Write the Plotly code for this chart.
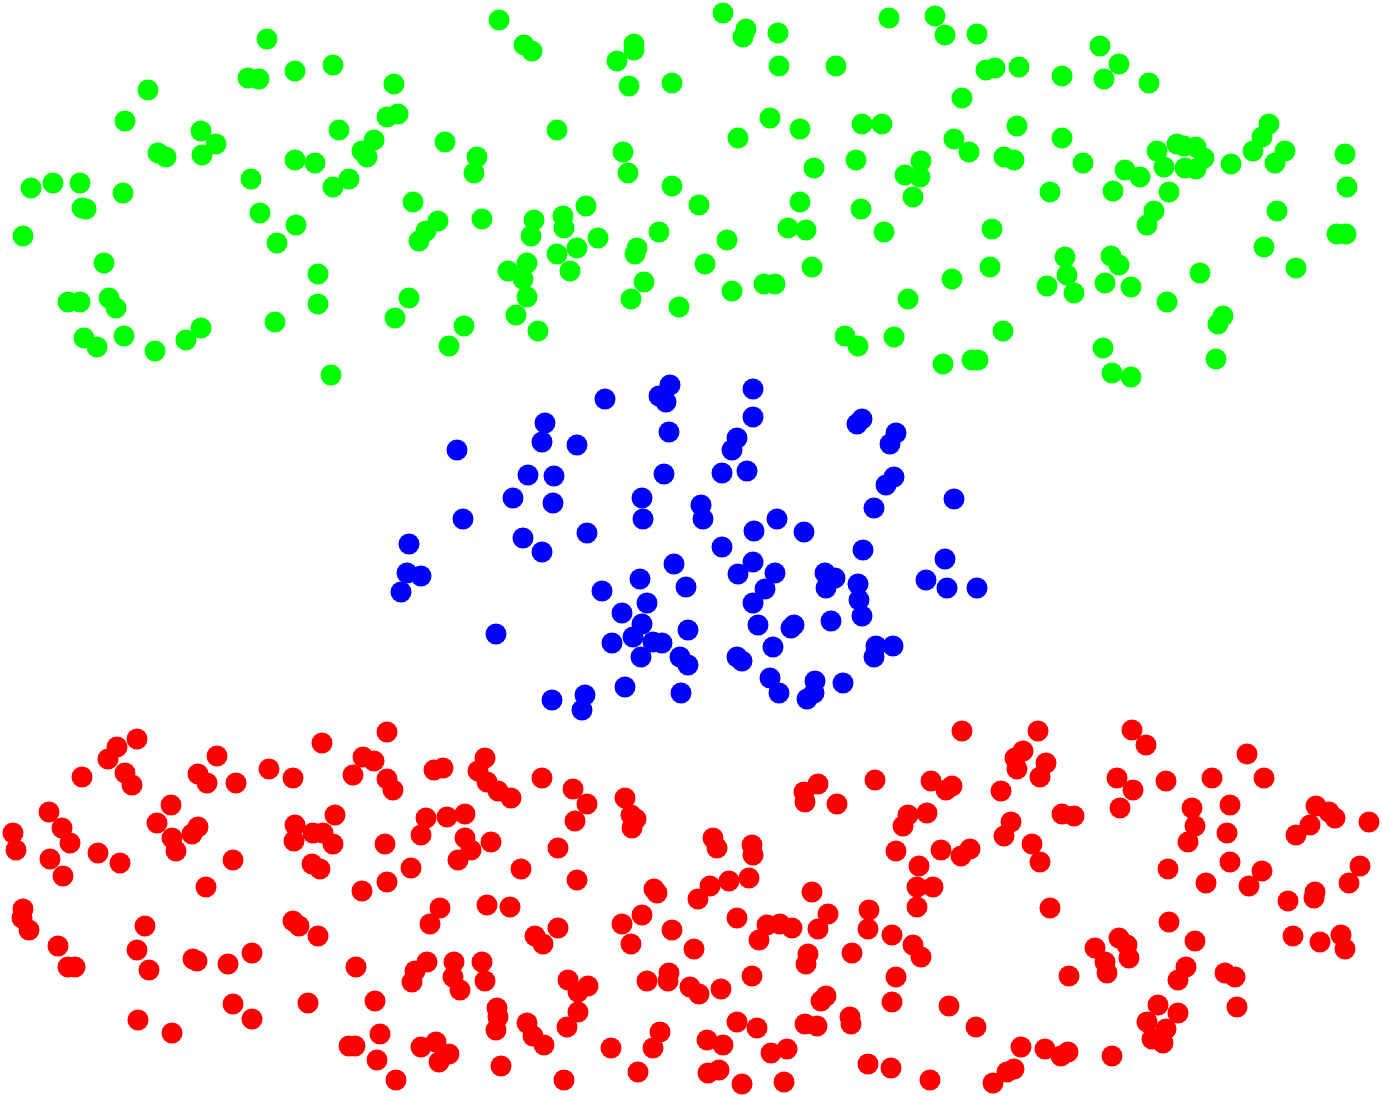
import plotly.graph_objects as go

# three clusters, point positions (pixel space)
green_x = [267, 248, 259, 295, 333, 394, 148, 125, 387, 398, 339, 201, 216, 202, 158, 166, 374, 362, 367, 445,
           295, 315, 251, 31, 53, 80, 82, 86, 123, 349, 333, 413, 260, 23, 296, 277, 438, 426, 419, 104,
           318, 318, 409, 395, 68, 80, 109, 116, 275, 84, 97, 124, 155, 186, 201, 331, 449, 464, 477, 474,
           499, 524, 532, 634, 634, 617, 629, 672, 723, 746, 743, 778, 779, 836, 889, 557, 770, 800, 738, 862,
           882, 623, 628, 814, 856, 921, 905, 920, 913, 672, 699, 800, 861, 482, 534, 531, 563, 564, 586, 598,
           577, 557, 570, 637, 635, 659, 727, 788, 806, 884, 508, 527, 523, 527, 516, 538, 644, 631, 679, 705,
           732, 764, 775, 812, 908, 845, 858, 894, 935, 945, 977, 986, 995, 1019, 962, 1062, 1100, 1119, 1104, 1149,
           1017, 1062, 954, 969, 1004, 1014, 1083, 1050, 1113, 1125, 1140, 1157, 1164, 1177, 1184, 1196, 1204, 1185, 1196, 1231,
           1269, 1262, 1253, 1285, 1275, 1345, 1347, 1169, 1154, 1147, 1277, 1337, 1346, 992, 1264, 1296, 1065, 1067, 1047, 1074,
           1111, 1119, 1105, 1131, 990, 952, 1167, 1200, 1223, 1218, 1003, 943, 972, 978, 1103, 1112, 1131, 1216]
green_y = [39, 78, 79, 71, 65, 84, 90, 121, 117, 114, 130, 131, 144, 155, 153, 157, 140, 151, 157, 142,
           160, 163, 179, 188, 183, 183, 208, 209, 193, 179, 187, 202, 213, 236, 225, 243, 221, 231, 241, 263,
           274, 304, 298, 318, 302, 302, 298, 308, 322, 338, 347, 336, 351, 340, 328, 375, 346, 326, 157, 173,
           20, 45, 51, 44, 50, 61, 86, 83, 13, 29, 37, 33, 66, 66, 18, 130, 118, 129, 138, 124,
           124, 152, 173, 168, 160, 161, 175, 177, 197, 186, 205, 202, 209, 219, 220, 236, 216, 228, 206, 238,
           248, 254, 271, 248, 254, 232, 240, 228, 230, 232, 271, 263, 279, 297, 315, 331, 282, 299, 307, 264,
           291, 284, 284, 267, 299, 336, 346, 337, 16, 35, 34, 70, 68, 67, 98, 76, 46, 64, 79, 83,
           126, 138, 139, 152, 157, 160, 163, 192, 191, 170, 177, 151, 167, 144, 146, 147, 158, 168, 169, 164,
           124, 137, 151, 151, 163, 154, 187, 192, 211, 225, 211, 234, 234, 229, 247, 268, 257, 275, 286, 293,
           256, 265, 283, 287, 267, 279, 302, 273, 316, 324, 331, 364, 360, 360, 348, 373, 377, 359]

blue_x = [670, 659, 666, 605, 753, 753, 545, 542, 577, 457, 669, 737, 732, 862, 857, 896, 890, 528, 554, 664,
          722, 747, 513, 553, 642, 643, 701, 703, 894, 886, 874, 954, 463, 409, 523, 542, 587, 722, 754, 777,
          804, 863, 945, 926, 947, 977, 407, 421, 401, 674, 640, 686, 602, 753, 738, 775, 765, 753, 825, 835,
          826, 858, 859, 862, 647, 622, 642, 633, 653, 662, 641, 612, 688, 758, 794, 791, 831, 773, 496, 680,
          688, 737, 742, 876, 893, 874, 770, 779, 815, 814, 807, 843, 625, 681, 552, 585, 582]
blue_y = [385, 396, 402, 399, 389, 417, 423, 442, 445, 450, 432, 438, 450, 419, 424, 433, 444, 475, 476, 474,
          473, 471, 498, 503, 498, 519, 505, 519, 477, 485, 508, 499, 519, 544, 538, 552, 533, 547, 531, 519,
          532, 550, 559, 580, 588, 588, 573, 576, 592, 564, 579, 587, 591, 562, 574, 573, 589, 603, 573, 578,
          588, 584, 600, 616, 603, 613, 624, 637, 642, 643, 657, 643, 630, 625, 625, 628, 621, 647, 634, 657,
          665, 657, 661, 646, 646, 657, 678, 693, 681, 693, 699, 683, 687, 693, 700, 695, 710]

red_x = [137, 117, 108, 82, 125, 132, 217, 198, 207, 236, 269, 293, 322, 387, 363, 374, 353, 387, 393, 434,
         443, 49, 13, 16, 62, 70, 50, 63, 98, 120, 171, 157, 198, 192, 172, 176, 233, 206, 295, 294,
         313, 323, 333, 335, 385, 312, 320, 411, 387, 362, 426, 421, 447, 465, 465, 458, 23, 22, 29, 58,
         68, 75, 145, 137, 149, 193, 197, 228, 252, 233, 252, 138, 172, 293, 299, 318, 356, 308, 375, 440,
         430, 427, 415, 412, 454, 453, 460, 380, 349, 355, 377, 396, 421, 436, 449, 439,
         485, 478, 487, 498, 511, 542, 573, 587, 575, 625, 631, 636, 632, 804, 818, 805, 837, 875, 908, 903,
         896, 471, 491, 521, 558, 577, 713, 717, 752, 753, 654, 657, 710, 698, 729, 749, 812, 487, 510, 642,
         622, 631, 672, 694, 737, 767, 780, 792, 759, 828, 818, 869, 868, 892, 919, 917, 933, 917, 913, 921,
         852, 808, 806, 896, 892, 821, 826, 850, 851, 805, 817, 535, 543, 558, 482, 485, 568, 588, 578, 647,
         669, 668, 690, 699, 721, 752, 497, 498, 496, 527, 533, 544, 578, 567, 660, 653, 611, 707, 723, 737,
         757, 771, 787, 868, 891, 501, 564, 638, 708, 719, 742, 784,
         962, 1038, 1023, 1015, 1017, 1046, 1040, 1132, 1146, 1247, 931, 952, 946, 1001, 1117, 1133, 1166, 1212, 1264, 1120,
         927, 1011, 1004, 1062, 1074, 1192, 1195, 1188, 1230, 1227, 1316, 1329, 1335, 1310, 1296, 1369, 941, 970, 961, 1032,
         1040, 1168, 1230, 1262, 1249, 1206, 1360, 1349, 1050, 1288, 1315, 1314, 1169, 1195, 1293, 1320, 1341, 1345, 1095, 1105,
         1107, 1119, 1127, 1129, 1069, 1186, 1178, 1225, 1235, 1237, 949, 976, 1158, 1178, 1147, 1166, 1152, 1163, 1021, 1045,
         1061, 1068, 1112, 1014, 1007, 993, 930]
red_y = [739, 747, 759, 777, 773, 785, 756, 774, 783, 783, 769, 778, 743, 732, 757, 761, 775, 779, 790, 770,
         768, 812, 833, 850, 828, 843, 859, 876, 853, 863, 805, 823, 827, 834, 838, 851, 860, 887, 825, 841,
         833, 833, 844, 815, 844, 864, 869, 868, 882, 891, 818, 835, 817, 814, 838, 860, 909, 918, 930, 946,
         967, 967, 926, 950, 970, 959, 961, 964, 953, 1004, 1019, 1020, 1033, 921, 926, 936, 967, 1003, 1001, 908,
         924, 962, 971, 982, 962, 977, 990, 1034, 1046, 1046, 1060, 1080, 1047, 1042, 1054, 1062,
         758, 771, 782, 791, 798, 778, 789, 804, 821, 798, 815, 819, 828, 792, 784, 802, 804, 780, 815, 826,
         851, 850, 842, 869, 848, 880, 838, 848, 845, 855, 889, 893, 886, 899, 881, 878, 892, 905, 907, 915,
         924, 944, 930, 949, 918, 925, 924, 928, 940, 914, 929, 910, 929, 935, 866, 887, 887, 907, 945, 957,
         953, 954, 964, 977, 1002, 1001, 996, 1017, 1024, 1024, 1026, 936, 944, 928, 962, 981, 980, 986, 992, 981,
         973, 981, 987, 994, 989, 976, 1008, 1017, 1030, 1023, 1036, 1045, 1012, 1027, 1032, 1048, 1048, 1040, 1045, 1022,
         1028, 1053, 1049, 1064, 1068, 1066, 1080, 1072, 1073, 1070, 1084, 1082,
         731, 731, 751, 758, 769, 763, 777, 730, 745, 754, 781, 786, 790, 791, 778, 790, 781, 778, 778, 808,
         813, 822, 836, 814, 816, 808, 826, 842, 805, 833, 806, 812, 818, 825, 835, 822, 850, 849, 856, 844,
         862, 869, 862, 871, 886, 883, 866, 883, 908, 901, 892, 898, 922, 941, 936, 942, 935, 949, 948, 962,
         973, 938, 945, 958, 976, 967, 980, 973, 977, 1007, 1006, 1027, 1005, 1013, 1022, 1029, 1039, 1043, 1047, 1049,
         1056, 1052, 1056, 1069, 1072, 1083, 1080]

W, H = 1382, 1097

fig = go.Figure()
for xs, ys, colour in [(green_x, green_y, '#00ff00'),
                       (blue_x, blue_y, '#0000ff'),
                       (red_x, red_y, '#ff0000')]:
    fig.add_trace(go.Scatter(
        x=xs, y=ys,
        mode='markers',
        marker=dict(size=21, color=colour, line=dict(width=0)),
        hoverinfo='skip',
    ))

fig.update_layout(
    width=W,
    height=H,
    margin=dict(l=0, r=0, t=0, b=0),
    showlegend=False,
    paper_bgcolor='white',
    plot_bgcolor='white',
    xaxis=dict(range=[0, W], visible=False, fixedrange=True),
    yaxis=dict(range=[H, 0], visible=False, fixedrange=True),
)

fig.write_html(
    'out.html',
    config={'displayModeBar': False},
    post_script="document.body.style.margin='0';document.body.style.overflow='hidden';",
)
